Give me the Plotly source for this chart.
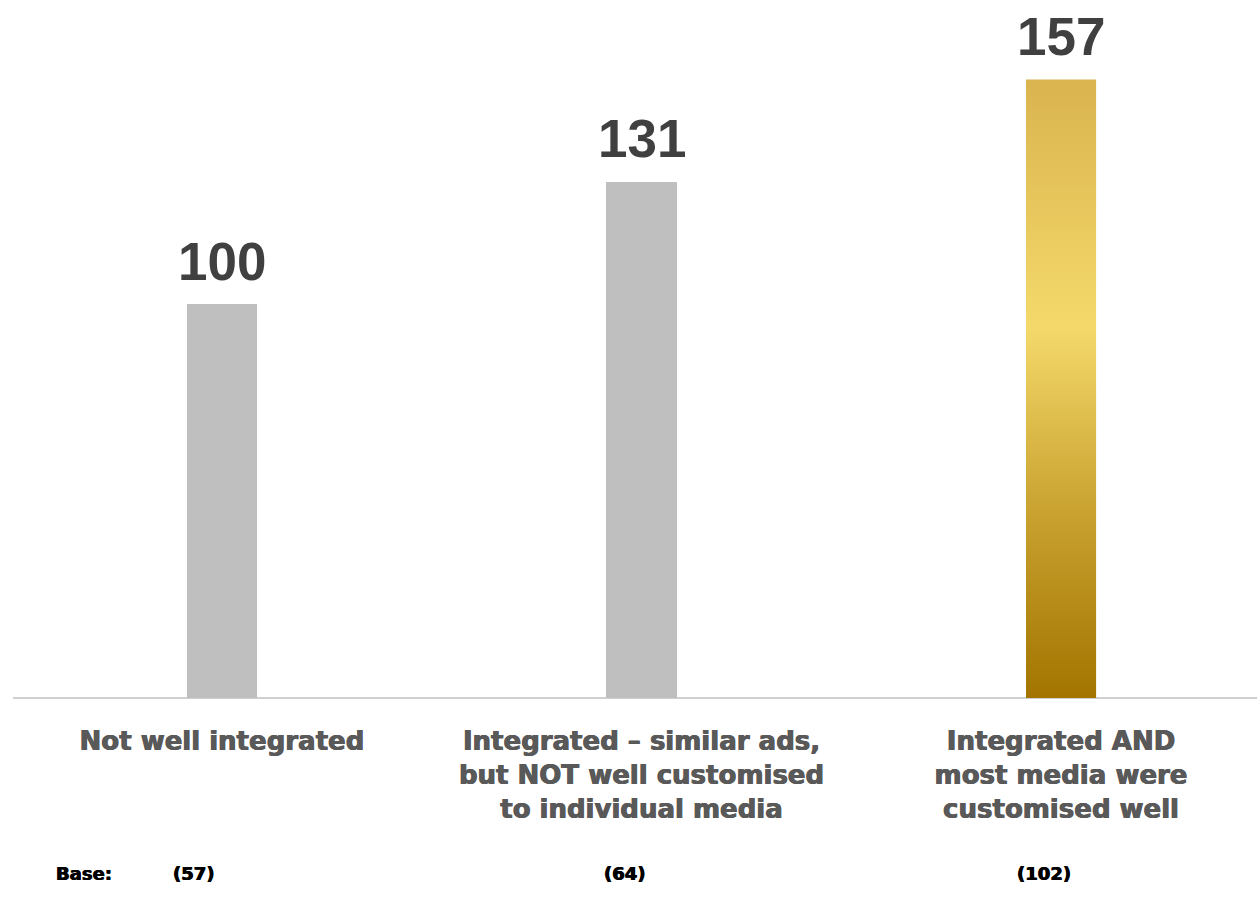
import plotly.graph_objects as go

# Chart data
categories = [
    "Not well integrated",
    "Integrated – similar ads,<br>but NOT well customised<br>to individual media",
    "Integrated AND<br>most media were<br>customised well",
]
index_values = [100, 131, 157]
base_sizes = ["(57)", "(64)", "(102)"]
base_label = "Base:"

GRAY = "#BFBFBF"
LABEL_GRAY = "#595959"
GOLD_SCALE = [
    [0.0, "#A37400"],
    [0.3, "#C9A230"],
    [0.6, "#F4D96A"],
    [1.0, "#DAB44F"],
]
BAR_W = 0.167
x_pos = list(range(len(categories)))

fig = go.Figure()

# Index bars
fig.add_trace(go.Bar(
    x=x_pos,
    y=index_values,
    width=BAR_W,
    marker=dict(color=[GRAY, GRAY, "#D4AE45"], line=dict(width=0)),
    hoverinfo="skip",
    showlegend=False,
))

# Gold gradient fill over the highlighted (last) bar
hx = x_pos[-1]
hv = index_values[-1]
fig.add_trace(go.Scatter(
    x=[hx - BAR_W / 2, hx + BAR_W / 2, hx + BAR_W / 2, hx - BAR_W / 2, hx - BAR_W / 2],
    y=[0, 0, hv, hv, 0],
    mode="lines",
    line=dict(width=0),
    fill="toself",
    fillgradient=dict(type="vertical", colorscale=GOLD_SCALE),
    hoverinfo="skip",
    showlegend=False,
))

# Value labels above bars
for xi, v in zip(x_pos, index_values):
    fig.add_annotation(
        x=xi, y=v, xref="x", yref="y",
        text=f"<b>{v}</b>",
        showarrow=False,
        yanchor="middle",
        yshift=43,
        font=dict(family="Liberation Sans, Arial, sans-serif", size=53, color="#404040"),
    )

# Heavy black face for the base row
heavy_black = dict(
    family="DejaVu Sans, sans-serif", size=18, color="#000000", weight="bold",
    shadow="0.4px 0 0 #000000, -0.4px 0 0 #000000",
)

# Base sizes row
base_shift = [-28, -17, -17]
for xi, b, s in zip(x_pos, base_sizes, base_shift):
    fig.add_annotation(
        x=xi, y=0, xref="x", yref="y",
        text=b,
        showarrow=False,
        xshift=s,
        yanchor="middle",
        yshift=-175,
        font=heavy_black,
    )
fig.add_annotation(
    x=(54 - 13) / 1244, y=0, xref="paper", yref="y",
    xanchor="left",
    text=base_label,
    showarrow=False,
    yanchor="middle",
    yshift=-175,
    font=heavy_black,
)

fig.update_layout(
    width=1257,
    height=909,
    margin=dict(l=13, r=0, t=0, b=211),
    paper_bgcolor="white",
    plot_bgcolor="white",
    bargap=0,
    xaxis=dict(
        range=[-0.498, 2.467],
        tickmode="array",
        tickvals=x_pos,
        ticktext=categories,
        tickfont=dict(
            family="DejaVu Sans, sans-serif", size=26, color=LABEL_GRAY, weight="bold",
            shadow=f"0.5px 0 0 {LABEL_GRAY}, -0.5px 0 0 {LABEL_GRAY}",
        ),
        showgrid=False,
        zeroline=False,
        showline=False,
        ticks="",
        ticklabelstandoff=25,
    ),
    yaxis=dict(
        range=[0, 177.2],
        showgrid=False,
        zeroline=True,
        zerolinecolor="#D0D0D0",
        zerolinewidth=2,
        showticklabels=False,
        showline=False,
        ticks="",
    ),
)

fig.write_html("out.html")
